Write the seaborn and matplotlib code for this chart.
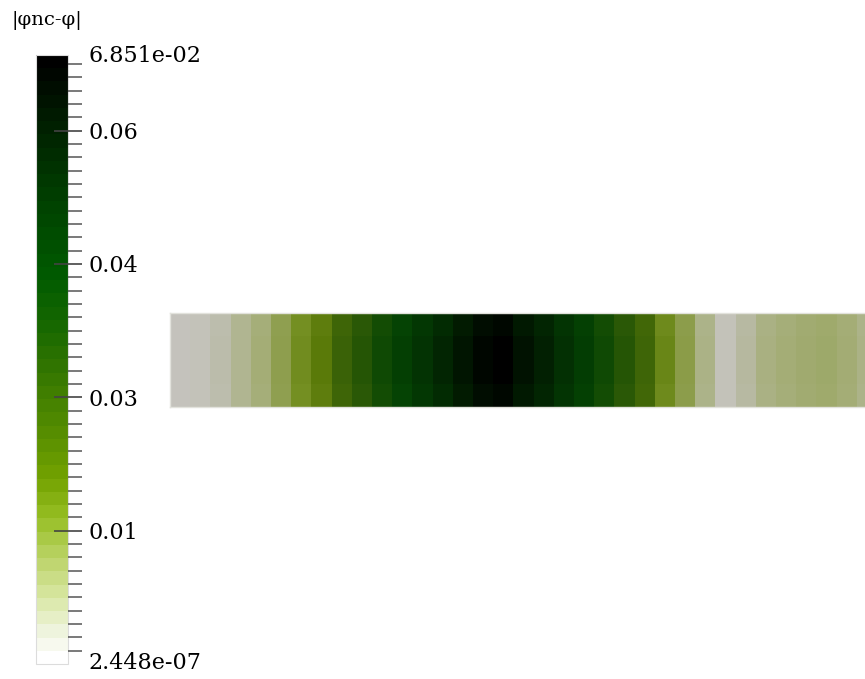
import numpy as np
import pandas as pd
import matplotlib
matplotlib.use("Agg")
import matplotlib.pyplot as plt
from matplotlib.colors import LinearSegmentedColormap, Normalize
from matplotlib.cm import ScalarMappable
from matplotlib.ticker import FixedLocator, FormatStrFormatter
import seaborn as sns

sns.set_style("white")
plt.rcParams["font.family"] = ["DejaVu Serif"]
plt.rcParams["text.color"] = "black"

# |phi_nc - phi| per cell along the strip (left to right)
cell_values = [
    0.0000002448, 0.0005, 0.0022, 0.0050, 0.0076, 0.0120, 0.0168, 0.0206,
    0.0285, 0.0340, 0.0400, 0.0452, 0.0507, 0.0560, 0.0617, 0.0665,
    0.0685, 0.0625, 0.0580, 0.0522, 0.0462, 0.0400, 0.0340, 0.0275,
    0.0180, 0.0125, 0.0060, 0.0004, 0.0035, 0.0065, 0.0075, 0.0085,
    0.0090, 0.0080, 0.0060,
]
# relative variation across the strip height (top to bottom)
row_profile = [0.965, 1.0, 1.0, 0.965]

value_min = 2.448e-07
value_max = 6.851e-02
major_ticks = [0.015, 0.03, 0.045, 0.06]
minor_step = 0.0015
title_text = "|φnc-φ|"
min_label = "2.448e-07"
max_label = "6.851e-02"

# white -> yellow-green -> green -> black
cmap_nodes = [
    (0.00, (255, 255, 255)),
    (0.04, (240, 245, 225)),
    (0.105, (215, 230, 160)),
    (0.17, (185, 210, 100)),
    (0.235, (150, 190, 35)),
    (0.30, (115, 162, 0)),
    (0.38, (85, 140, 0)),
    (0.47, (55, 120, 0)),
    (0.55, (25, 105, 0)),
    (0.64, (0, 90, 0)),
    (0.76, (0, 66, 0)),
    (0.88, (0, 35, 0)),
    (1.00, (0, 0, 0)),
]
cbar_cmap = LinearSegmentedColormap.from_list(
    "greens_dark",
    [(p, tuple(c / 255 for c in rgb)) for p, rgb in cmap_nodes],
    N=46,
)

# lit surface: darkened and slightly desaturated version of the same map
def shade(rgb):
    r, g, b = rgb
    lum = 0.3 * r + 0.59 * g + 0.11 * b
    tint = (1.0, 0.99, 0.955)
    return tuple(min(1.0, (0.70 * c + 0.07 * lum) * t) for c, t in zip((r, g, b), tint))

surf_cmap = LinearSegmentedColormap.from_list(
    "greens_dark_lit",
    [(p, shade(tuple(c / 255 for c in rgb))) for p, rgb in cmap_nodes],
    N=256,
)

grid = pd.DataFrame(np.outer(row_profile, cell_values))

W, H = 865, 679
fig = plt.figure(figsize=(W / 100, H / 100), dpi=100)

# strip of cells
ax = fig.add_axes([170 / W, (H - 407) / H, 35 * 20.2 / W, 94 / H])
sns.heatmap(grid, ax=ax, cmap=surf_cmap, vmin=value_min, vmax=value_max,
            cbar=False, xticklabels=False, yticklabels=False)
for s in ax.spines.values():
    s.set_visible(True)
    s.set_color("#e2e2dc")
    s.set_linewidth(1.0)

# colour legend
cax = fig.add_axes([36 / W, (H - 664) / H, 32 / W, 609 / H])
sm = ScalarMappable(norm=Normalize(vmin=value_min, vmax=value_max), cmap=cbar_cmap)
cb = fig.colorbar(sm, cax=cax)
cb.outline.set_edgecolor("#dcdcdc")
cb.outline.set_linewidth(0.8)
cb.set_ticks(major_ticks)
cax.yaxis.set_major_formatter(FormatStrFormatter("%.1g"))
n_minor = int(value_max / minor_step)
cax.yaxis.set_minor_locator(FixedLocator([minor_step * k for k in range(1, n_minor + 1)]))
cax.set_axisbelow(False)
cax.tick_params(axis="y", which="major", direction="inout", length=20, width=1.2,
                color="#444444", pad=4.5, labelsize=16, labelcolor="black")
cax.tick_params(axis="y", which="minor", direction="out", length=10, width=1.1,
                color="#555555")
for t in cax.yaxis.get_major_ticks():
    t.tick2line.set_zorder(10)

fig.text(88 / W, (H - 56) / H, max_label, fontsize=16, va="center", ha="left", color="black")
fig.text(88 / W, (H - 663) / H, min_label, fontsize=16, va="center", ha="left", color="black")
fig.text(12 / W, (H - 20) / H, title_text, fontsize=14, va="center", ha="left", color="black")

fig.savefig("out.png", dpi=100)
